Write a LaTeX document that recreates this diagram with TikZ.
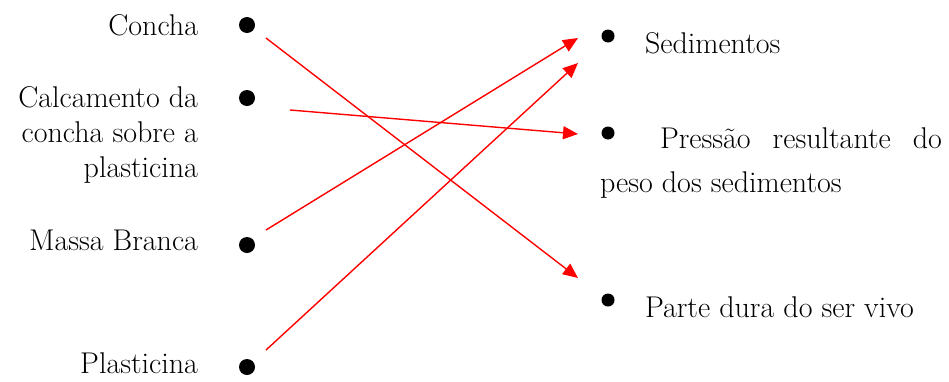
\documentclass[tikz,border=0pt]{standalone}
\usetikzlibrary{arrows.meta}
\begin{document}
\begin{tikzpicture}[x=1pt,y=-1pt,
  lbl/.style={font=\fontsize{30}{35}\selectfont, inner sep=0pt, outer sep=0pt},
  bigdot/.style={circle, fill=black, inner sep=0pt, minimum size=16pt},
  smalldot/.style={circle, fill=black, inner sep=0pt, minimum size=13pt},
  link/.style={red, line width=1.4pt, -{Triangle[length=15pt,width=13pt]}}]
\useasboundingbox (0,0) rectangle (949,381);
% left labels
\node[lbl, anchor=base east] (concha) at (198,35) {Concha};
\node[lbl, anchor=base east, align=right] (calc) at (198,177) {Calcamento da\\concha sobre a\\plasticina};
\node[lbl, anchor=base east] (massa) at (198,250) {Massa Branca};
\node[lbl, anchor=base east] (plast) at (198,373) {Plasticina};
% left dots
\node[bigdot] (d1) at (247,25) {};
\node[bigdot] (d2) at (247,98) {};
\node[bigdot] (d3) at (247,245) {};
\node[bigdot] (d4) at (247,367) {};
% right dots
\node[smalldot] (r1) at (608,36) {};
\node[smalldot] (r2) at (608,133) {};
\node[smalldot] (r3) at (608,300) {};
% right labels
\node[lbl, anchor=base west] (sed) at (645,53) {Sedimentos};
\node[lbl, font=\fontsize{30}{44}\selectfont, anchor=base west, text width=342pt, align=justify] (pres) at (600,148)
  {\hspace*{60pt}Press\~ao resultante do peso dos sedimentos};
\node[lbl, anchor=base west] (parte) at (645,317) {Parte dura do ser vivo};
% arrow ends
\coordinate (s1) at (266,38);  \coordinate (t1) at (578,278);
\coordinate (s2) at (290,110); \coordinate (t2) at (578,134);
\coordinate (s3) at (266,230); \coordinate (t3) at (578,38);
\coordinate (s4) at (266,350); \coordinate (t4) at (578,63);
\draw[link] (s1) -- (t1);
\draw[link] (s2) -- (t2);
\draw[link] (s3) -- (t3);
\draw[link] (s4) -- (t4);
\end{tikzpicture}
\end{document}
